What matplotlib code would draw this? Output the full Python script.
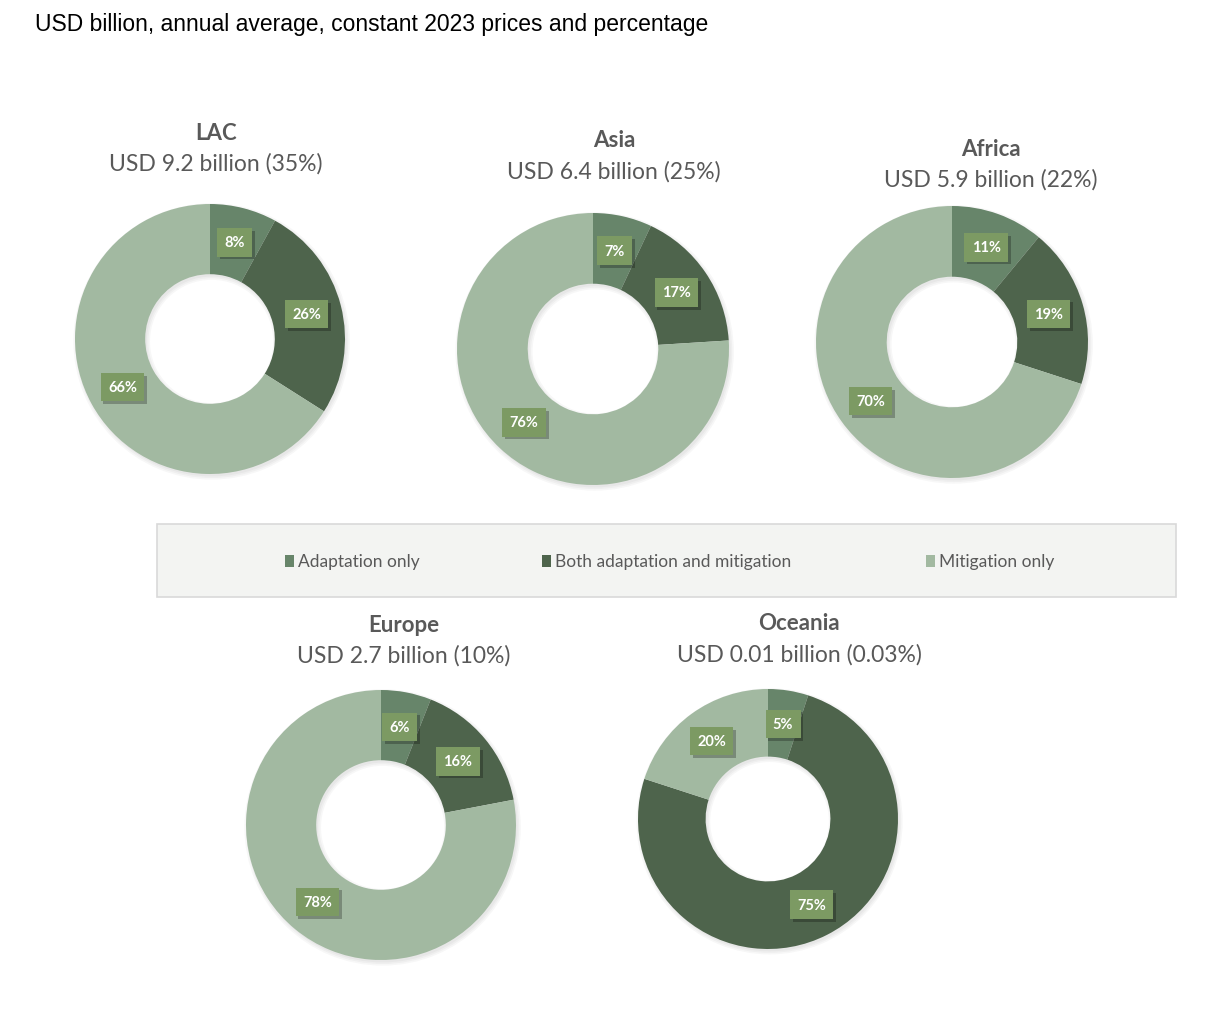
import matplotlib

matplotlib.use("Agg")
import matplotlib.pyplot as plt
import matplotlib.patheffects as pe
from matplotlib.patches import Rectangle, Wedge

W, H = 1222, 1020

CATEGORIES = ["Adaptation only", "Both adaptation and mitigation", "Mitigation only"]
COLORS = ["#67856A", "#4E644C", "#A2B9A1"]
LABEL_BOX = "#7C9A63"
TEXT_GREY = "#595959"

REGIONS = ["LAC", "Asia", "Africa", "Europe", "Oceania"]
SUBTITLES = [
    "USD 9.2 billion (35%)",
    "USD 6.4 billion (25%)",
    "USD 5.9 billion (22%)",
    "USD 2.7 billion (10%)",
    "USD 0.01 billion (0.03%)",
]
ADAPTATION = [8, 7, 11, 6, 5]
BOTH = [26, 17, 19, 16, 75]
MITIGATION = [66, 76, 70, 78, 20]

# pixel layout: donut centre x, centre y, radius, title x, title y
LAYOUT = {
    "LAC": (210, 340, 135, 216, 133),
    "Asia": (593, 350, 136, 614, 141),
    "Africa": (952, 343, 136, 991, 149),
    "Europe": (381, 826, 135, 404, 625),
    "Oceania": (768, 820, 130, 799, 624),
}
HOLE = 0.48
LEGEND_X = [285, 542, 926]
LEGEND_Y = 562


def fx(x):
    return x / W


def fy(y):
    return 1 - y / H


def draw_donut(fig, region, values, subtitle):
    cx, cy, r, tx, ty = LAYOUT[region]
    ax = fig.add_axes([fx(cx - r), fy(cy + r), 2 * r / W, 2 * r / H])
    # soft shadow under the ring, a few faint layers to blur it
    for grow in (0.0, 0.012, 0.024):
        ax.add_patch(Wedge((0.012, -0.018), 1 + grow, 0, 360, width=1 - HOLE + 2 * grow,
                           facecolor="#000000", alpha=0.03, edgecolor="none",
                           clip_on=False, zorder=0))
    wedges, _, pcts = ax.pie(
        values,
        colors=COLORS,
        startangle=90,
        counterclock=False,
        radius=1,
        autopct=lambda p: f"{p:.0f}%",
        pctdistance=(1 + HOLE) / 2,
        wedgeprops=dict(width=1 - HOLE, edgecolor="none", zorder=1),
    )
    for t in pcts:
        t.set_color("white")
        t.set_fontweight("bold")
        t.set_fontsize(10.5)
        t.set_family("Lato")
        t.set_zorder(5)
        t.set_bbox(dict(boxstyle="square,pad=0.5", facecolor=LABEL_BOX, edgecolor="none"))
        t.get_bbox_patch().set_path_effects(
            [pe.SimplePatchShadow(offset=(2, -2), shadow_rgbFace="#000000", alpha=0.25), pe.Normal()]
        )
    ax.set_xlim(-1, 1)
    ax.set_ylim(-1, 1)
    ax.set_aspect("equal")
    ax.axis("off")

    fig.text(fx(tx), fy(ty), region, ha="center", va="center", fontsize=16,
             fontweight="bold", color=TEXT_GREY, family="Lato")
    fig.text(fx(tx), fy(ty + 31), subtitle, ha="center", va="center", fontsize=16.5,
             color=TEXT_GREY, family="Lato")


fig = plt.figure(figsize=(W / 100, H / 100), dpi=100)
fig.patch.set_facecolor("white")

fig.text(fx(35), fy(25), "USD billion, annual average, constant 2023 prices and percentage",
         ha="left", va="center", fontsize=16.5, color="black", family="Liberation Sans")

for i, region in enumerate(REGIONS):
    draw_donut(fig, region, [ADAPTATION[i], BOTH[i], MITIGATION[i]], SUBTITLES[i])

# legend panel
fig.patches.append(Rectangle((fx(157), fy(598)), (1176 - 157) / W, (598 - 525) / H,
                             transform=fig.transFigure, facecolor="#F3F4F2",
                             edgecolor="#D9D9D9", linewidth=1.2, zorder=0))
for x, label, color in zip(LEGEND_X, CATEGORIES, COLORS):
    fig.patches.append(Rectangle((fx(x), fy(LEGEND_Y + 6)), 9 / W, 12 / H,
                                 transform=fig.transFigure, facecolor=color,
                                 edgecolor="none", zorder=1))
    fig.text(fx(x + 13), fy(LEGEND_Y), label, ha="left", va="center", fontsize=12.5,
             color=TEXT_GREY, family="Lato")

fig.savefig("out.png", dpi=100)
